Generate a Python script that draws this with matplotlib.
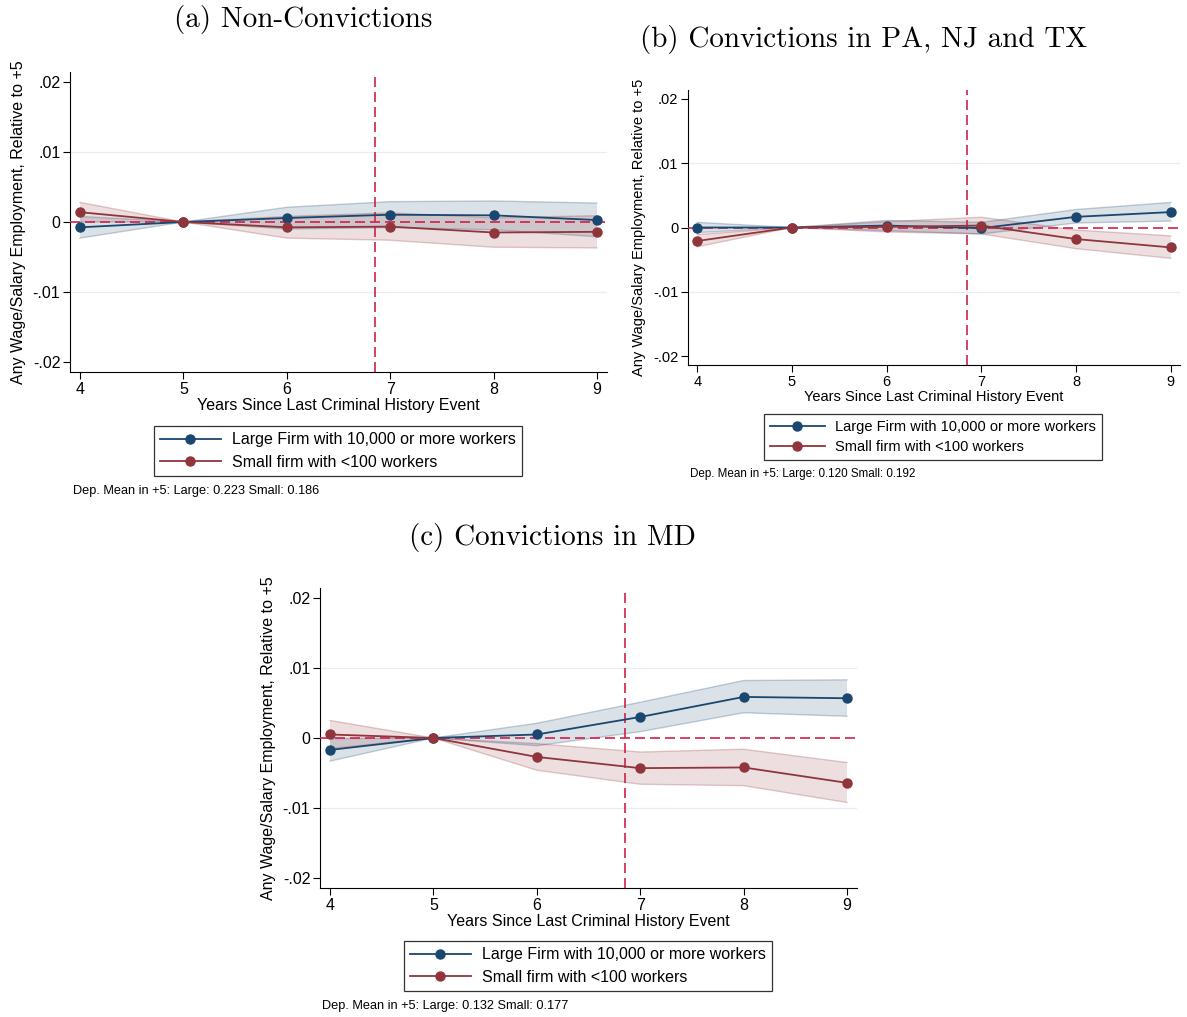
import matplotlib
matplotlib.use("Agg")
import matplotlib.pyplot as plt
from matplotlib.lines import Line2D

# Dados (anos desde o último evento criminal)
years = [4, 5, 6, 7, 8, 9]
yticks = [0.02, 0.01, 0.0, -0.01, -0.02]
ytick_labels = [".02", ".01", "0", "-.01", "-.02"]
cutoff = 6.85

# (a) Non-Convictions
a_large = [-0.00076, 0, 0.00057, 0.00104, 0.00095, 0.00028]
a_large_lo = [-0.0023, 0, -0.0010, -0.0008, -0.0011, -0.0021]
a_large_hi = [0.0008, 0, 0.0021, 0.0029, 0.0030, 0.0027]
a_small = [0.0014, 0, -0.00076, -0.00066, -0.0015, -0.0014]
a_small_lo = [0.0000, 0, -0.0023, -0.0026, -0.0036, -0.0037]
a_small_hi = [0.0028, 0, 0.0008, 0.0013, 0.0006, 0.0009]

# (b) Convictions in PA, NJ and TX
b_large = [0.0, 0, 0.0003, -0.0001, 0.00166, 0.0024]
b_large_lo = [-0.0008, 0, -0.0005, -0.0010, 0.0007, 0.0010]
b_large_hi = [0.0008, 0, 0.0011, 0.0008, 0.0028, 0.0039]
b_small = [-0.0021, 0, 0.0001, 0.0003, -0.0018, -0.0031]
b_small_lo = [-0.0030, 0, -0.0007, -0.0010, -0.0033, -0.0048]
b_small_hi = [-0.0011, 0, 0.0009, 0.0016, -0.0004, -0.0013]

# (c) Convictions in MD
c_large = [-0.0017, 0, 0.0005, 0.0030, 0.00586, 0.00567]
c_large_lo = [-0.0033, 0, -0.0011, 0.0009, 0.0036, 0.0031]
c_large_hi = [-0.0001, 0, 0.0021, 0.0051, 0.0082, 0.0083]
c_small = [0.0005, 0, -0.0027, -0.0043, -0.0042, -0.0064]
c_small_lo = [-0.0015, 0, -0.0046, -0.0066, -0.0068, -0.0092]
c_small_hi = [0.0025, 0, -0.0008, -0.0020, -0.0016, -0.0035]

titles = ["(a) Non-Convictions", "(b) Convictions in PA, NJ and TX", "(c) Convictions in MD"]
notes = ["Dep. Mean in +5: Large: 0.223 Small: 0.186",
         "Dep. Mean in +5: Large: 0.120 Small: 0.192",
         "Dep. Mean in +5: Large: 0.132 Small: 0.177"]
label_large = "Large Firm with 10,000 or more workers"
label_small = "Small firm with <100 workers"

blue = "#1a476f"
red = "#90353b"
crimson = "#d0204a"

plt.rcParams["font.family"] = ["Liberation Sans", "DejaVu Sans"]

W, H = 1187, 1017
fig = plt.figure(figsize=(W / 100, H / 100), dpi=100)


def rect(l, t, r, b):
    # converte pixels (topo-esquerda) para fração da figura
    return [l / W, 1 - b / H, (r - l) / W, (b - t) / H]


def painel(box, large, llo, lhi, small, slo, shi, fs, title, title_xy, title_fs,
           leg_xy, note_xy, ylab_pad):
    ax = fig.add_axes(rect(*box))
    ax.fill_between(years, llo, lhi, facecolor=blue, alpha=0.16, edgecolor="none")
    ax.plot(years, llo, color=blue, alpha=0.25, lw=1)
    ax.plot(years, lhi, color=blue, alpha=0.25, lw=1)
    ax.fill_between(years, slo, shi, facecolor=red, alpha=0.16, edgecolor="none")
    ax.plot(years, slo, color=red, alpha=0.25, lw=1)
    ax.plot(years, shi, color=red, alpha=0.25, lw=1)
    ax.plot(years, large, color=blue, lw=1.3, marker="o", ms=6.5, zorder=4)
    ax.plot(years, small, color=red, lw=1.3, marker="o", ms=6.5, zorder=4)
    ax.axhline(0, color=crimson, lw=1.2, ls=(0, (6, 3)), zorder=3)
    ax.axvline(cutoff, color=crimson, lw=1.2, ls=(0, (6, 3)), zorder=3)
    for g in [0.01, -0.01]:
        ax.axhline(g, color="#e6eef0", lw=0.9, zorder=0)

    ax.set_xlim(3.903, 9.097)
    ax.set_ylim(-0.0214, 0.0214)
    ax.set_xticks(years)
    ax.set_yticks(yticks)
    ax.set_yticklabels(ytick_labels)
    ax.tick_params(labelsize=fs, length=5, width=0.8, pad=2)
    ax.spines["top"].set_visible(False)
    ax.spines["right"].set_visible(False)
    ax.set_xlabel("Years Since Last Criminal History Event", fontsize=fs, labelpad=1)
    ax.set_ylabel("Any Wage/Salary Employment, Relative to +5", fontsize=fs, labelpad=ylab_pad)

    fig.text(title_xy[0] / W, 1 - title_xy[1] / H, title, family="cmr10",
             fontsize=title_fs, ha="center", va="center")

    handles = [Line2D([], [], color=blue, lw=1.3, marker="o", ms=6.5),
               Line2D([], [], color=red, lw=1.3, marker="o", ms=6.5)]
    leg = fig.legend(handles, [label_large, label_small], loc="center",
                     bbox_to_anchor=(leg_xy[0] / W, 1 - leg_xy[1] / H),
                     fontsize=fs, frameon=True, fancybox=False, handlelength=3.8,
                     borderpad=0.4, labelspacing=0.45, handletextpad=0.7,
                     borderaxespad=0)
    leg.get_frame().set_edgecolor("black")
    leg.get_frame().set_linewidth(0.9)

    fig.text(note_xy[0] / W, 1 - note_xy[1] / H, notes[titles.index(title)],
             fontsize=fs * 0.8, ha="left", va="center")
    return ax


painel((70, 72, 607, 372), a_large, a_large_lo, a_large_hi,
       a_small, a_small_lo, a_small_hi, 11.5, titles[0], (303, 20), 21,
       (338, 451), (73, 491), 5)
painel((688, 90, 1180, 365), b_large, b_large_lo, b_large_hi,
       b_small, b_small_lo, b_small_hi, 10.5, titles[1], (864, 40), 21,
       (933, 437), (690, 474), 5)
painel((320, 588, 857, 888), c_large, c_large_lo, c_large_hi,
       c_small, c_small_lo, c_small_hi, 11.5, titles[2], (552, 537), 21,
       (588, 966), (322, 1006), 5)

fig.savefig("out.png", dpi=100)
